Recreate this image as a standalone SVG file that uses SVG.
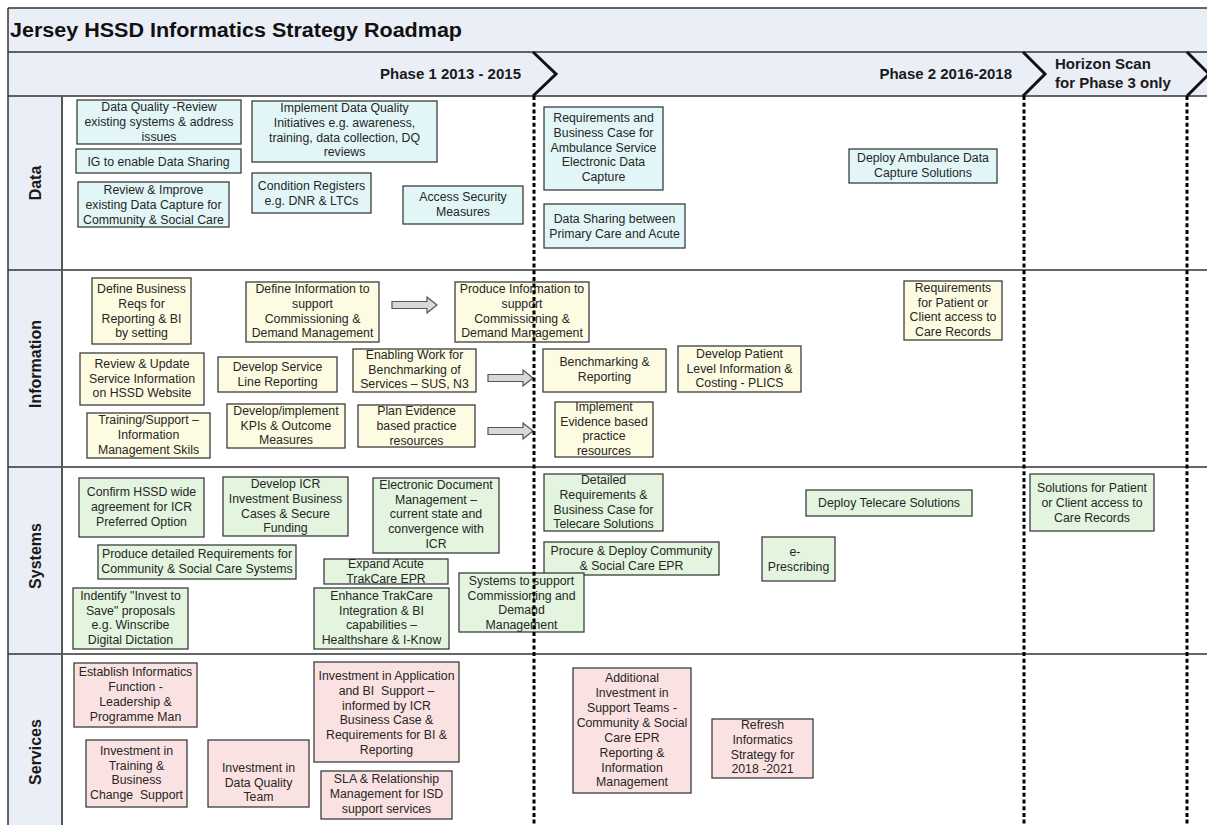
<svg xmlns="http://www.w3.org/2000/svg" width="1207" height="825" viewBox="0 0 1207 825">
<style>
.t{font-family:"Liberation Sans",Arial,sans-serif;font-size:12.3px;fill:#262626;text-anchor:middle}
.d{fill:#e2f6f8;stroke:#3d3d3d;stroke-width:1.3}
.i{fill:#fdfbe2;stroke:#3d3d3d;stroke-width:1.3}
.s{fill:#e3f5df;stroke:#3d3d3d;stroke-width:1.3}
.v{fill:#fbe2e2;stroke:#3d3d3d;stroke-width:1.3}
.hdr{font-family:"Liberation Sans",Arial,sans-serif;font-weight:bold;fill:#1a1a1a;font-size:15px}
.lane{font-family:"Liberation Sans",Arial,sans-serif;font-weight:bold;font-size:16px;fill:#1a1a1a;text-anchor:middle}
.rule{stroke:#333;stroke-width:1.5;fill:none}
.chev{stroke:#111;stroke-width:3;fill:none;stroke-linejoin:miter}
.dot{stroke:#000;stroke-width:3;stroke-dasharray:4 2.7;fill:none}
.arrow{fill:#d8d8d8;stroke:#555;stroke-width:1.2}
</style>
<rect x="0" y="0" width="1207" height="825" fill="#fff"/>
<g id="frame">
<rect x="8" y="8" width="1199" height="88" fill="#eaeef7"/>
<rect x="8" y="96" width="54" height="729" fill="#eaeef7"/>
<line class="rule" x1="8" y1="8" x2="1207" y2="8"/>
<line class="rule" x1="8" y1="52" x2="1207" y2="52"/>
<line class="rule" x1="8" y1="96" x2="1207" y2="96"/>
<line class="rule" x1="8" y1="270" x2="1207" y2="270"/>
<line class="rule" x1="8" y1="467" x2="1207" y2="467"/>
<line class="rule" x1="8" y1="654" x2="1207" y2="654"/>
<line class="rule" x1="8" y1="8" x2="8" y2="825"/>
<line x1="62" y1="96" x2="62" y2="825" stroke="#555" stroke-width="2"/>
<polyline class="chev" points="533,52 556,74 533,96"/>
<polyline class="chev" points="1023,52 1045,74 1023,96"/>
<polyline class="chev" points="1187,52 1209,74 1187,96"/>
<text x="10" y="37" font-family="Liberation Sans, Arial, sans-serif" font-weight="bold" font-size="20" fill="#111" textLength="452" lengthAdjust="spacingAndGlyphs">Jersey HSSD Informatics Strategy Roadmap</text>
<text class="hdr" x="521" y="79" text-anchor="end">Phase 1 2013 - 2015</text>
<text class="hdr" x="1012" y="79" text-anchor="end">Phase 2 2016-2018</text>
<text class="hdr" x="1055" y="69">Horizon Scan</text>
<text class="hdr" x="1055" y="88">for Phase 3 only</text>
<text class="lane" transform="translate(41,183) rotate(-90)">Data</text>
<text class="lane" transform="translate(41,364) rotate(-90)">Information</text>
<text class="lane" transform="translate(41,556) rotate(-90)">Systems</text>
<text class="lane" transform="translate(41,752) rotate(-90)">Services</text>
</g>

<g id="n1"><rect class="d" x="77" y="100" width="164" height="44"/><text class="t"><tspan x="159" y="111.3">Data Quality -Review</tspan><tspan x="159" y="126.3">existing systems &amp; address</tspan><tspan x="159" y="141.3">issues</tspan></text></g>
<g id="n2"><rect class="d" x="76" y="149" width="165" height="24"/><text class="t"><tspan x="158.5" y="165.5">IG to enable Data Sharing</tspan></text></g>
<g id="n3"><rect class="d" x="78" y="182" width="151" height="45"/><text class="t"><tspan x="153.5" y="194.3">Review &amp; Improve</tspan><tspan x="153.5" y="209">existing Data Capture for</tspan><tspan x="153.5" y="223.5">Community &amp; Social Care</tspan></text></g>
<g id="n4"><rect class="d" x="252" y="101" width="185" height="61"/><text class="t"><tspan x="344.5" y="112.3">Implement Data Quality</tspan><tspan x="344.5" y="127">Initiatives e.g. awareness,</tspan><tspan x="344.5" y="141.7">training, data collection, DQ</tspan><tspan x="344.5" y="156.4">reviews</tspan></text></g>
<g id="n5"><rect class="d" x="252" y="173" width="119" height="40"/><text class="t"><tspan x="311.5" y="190.3">Condition Registers</tspan><tspan x="311.5" y="205">e.g. DNR &amp; LTCs</tspan></text></g>
<g id="n6"><rect class="d" x="403" y="186" width="120" height="38"/><text class="t"><tspan x="463" y="201.3">Access Security</tspan><tspan x="463" y="216">Measures</tspan></text></g>
<g id="n7"><rect class="d" x="544" y="107" width="119" height="83"/><text class="t"><tspan x="603.5" y="122.3">Requirements and</tspan><tspan x="603.5" y="137">Business Case for</tspan><tspan x="603.5" y="151.7">Ambulance Service</tspan><tspan x="603.5" y="166.4">Electronic Data</tspan><tspan x="603.5" y="181.1">Capture</tspan></text></g>
<g id="n8"><rect class="d" x="544" y="204" width="141" height="44"/><text class="t"><tspan x="614.5" y="223.3">Data Sharing between</tspan><tspan x="614.5" y="237.7">Primary Care and Acute</tspan></text></g>
<g id="n9"><rect class="d" x="849" y="149" width="148" height="34"/><text class="t"><tspan x="923" y="162.3">Deploy Ambulance Data</tspan><tspan x="923" y="177">Capture Solutions</tspan></text></g>

<g id="n10"><rect class="i" x="92" y="278" width="99" height="66"/><text class="t"><tspan x="141.5" y="293.3">Define Business</tspan><tspan x="141.5" y="308">Reqs for</tspan><tspan x="141.5" y="322.5">Reporting &amp; BI</tspan><tspan x="141.5" y="337">by setting</tspan></text></g>
<g id="n11"><rect class="i" x="246" y="282" width="133" height="60"/><text class="t"><tspan x="312.5" y="293.3">Define Information to</tspan><tspan x="312.5" y="308">support</tspan><tspan x="312.5" y="322.5">Commissioning &amp;</tspan><tspan x="312.5" y="337">Demand Management</tspan></text></g>
<g id="n12"><rect class="i" x="455" y="282" width="134" height="60"/><text class="t"><tspan x="522" y="293.3">Produce Information to</tspan><tspan x="522" y="308">support</tspan><tspan x="522" y="322.5">Commissioning &amp;</tspan><tspan x="522" y="337">Demand Management</tspan></text></g>
<g id="n13"><rect class="i" x="904" y="281" width="98" height="59"/><text class="t"><tspan x="953" y="292.3">Requirements</tspan><tspan x="953" y="306.7">for Patient or</tspan><tspan x="953" y="321.3">Client access to</tspan><tspan x="953" y="336">Care Records</tspan></text></g>
<g id="n14"><rect class="i" x="80" y="353" width="124" height="52"/><text class="t"><tspan x="142" y="368.3">Review &amp; Update</tspan><tspan x="142" y="382.7">Service Information</tspan><tspan x="142" y="397.3">on HSSD Website</tspan></text></g>
<g id="n15"><rect class="i" x="218" y="357" width="119" height="35"/><text class="t"><tspan x="277.5" y="371.3">Develop Service</tspan><tspan x="277.5" y="386">Line Reporting</tspan></text></g>
<g id="n16"><rect class="i" x="353" y="349" width="123" height="43"/><text class="t"><tspan x="414.5" y="359.3">Enabling Work for</tspan><tspan x="414.5" y="373.5">Benchmarking of</tspan><tspan x="414.5" y="388">Services – SUS, N3</tspan></text></g>
<g id="n17"><rect class="i" x="543" y="349" width="123" height="43"/><text class="t"><tspan x="604.5" y="366.3">Benchmarking &amp;</tspan><tspan x="604.5" y="381">Reporting</tspan></text></g>
<g id="n18"><rect class="i" x="678" y="346" width="123" height="46"/><text class="t"><tspan x="739.5" y="358.3">Develop Patient</tspan><tspan x="739.5" y="372.5">Level Information &amp;</tspan><tspan x="739.5" y="387">Costing - PLICS</tspan></text></g>
<g id="n19"><rect class="i" x="87" y="413" width="123" height="45"/><text class="t"><tspan x="148.5" y="424.3">Training/Support –</tspan><tspan x="148.5" y="439">Information</tspan><tspan x="148.5" y="453.5">Management Skils</tspan></text></g>
<g id="n20"><rect class="i" x="227" y="404" width="118" height="44"/><text class="t"><tspan x="286" y="415.3">Develop/implement</tspan><tspan x="286" y="429.5">KPIs &amp; Outcome</tspan><tspan x="286" y="444">Measures</tspan></text></g>
<g id="n21"><rect class="i" x="358" y="405" width="117" height="42"/><text class="t"><tspan x="416.5" y="415.3">Plan Evidence</tspan><tspan x="416.5" y="430">based practice</tspan><tspan x="416.5" y="444.8">resources</tspan></text></g>
<g id="n22"><rect class="i" x="555" y="402" width="98" height="55"/><text class="t"><tspan x="604" y="411.3">Implement</tspan><tspan x="604" y="425.5">Evidence based</tspan><tspan x="604" y="440.3">practice</tspan><tspan x="604" y="455">resources</tspan></text></g>

<g id="n23"><rect class="s" x="79" y="478" width="125" height="59"/><text class="t"><tspan x="141.5" y="496.3">Confirm HSSD wide</tspan><tspan x="141.5" y="511">agreement for ICR</tspan><tspan x="141.5" y="525.5">Preferred Option</tspan></text></g>
<g id="n24"><rect class="s" x="223" y="477" width="125" height="59"/><text class="t"><tspan x="285.5" y="488.3">Develop ICR</tspan><tspan x="285.5" y="503">Investment Business</tspan><tspan x="285.5" y="517.5">Cases &amp; Secure</tspan><tspan x="285.5" y="532">Funding</tspan></text></g>
<g id="n25"><rect class="s" x="373" y="478" width="126" height="75"/><text class="t"><tspan x="436" y="489.3">Electronic Document</tspan><tspan x="436" y="503.5">Management –</tspan><tspan x="436" y="518.3">current state and</tspan><tspan x="436" y="533">convergence with</tspan><tspan x="436" y="547.5">ICR</tspan></text></g>
<g id="n26"><rect class="s" x="544" y="474" width="119" height="57"/><text class="t"><tspan x="603.5" y="484.3">Detailed</tspan><tspan x="603.5" y="499">Requirements &amp;</tspan><tspan x="603.5" y="513.5">Business Case for</tspan><tspan x="603.5" y="528">Telecare Solutions</tspan></text></g>
<g id="n27"><rect class="s" x="806" y="490" width="166" height="26"/><text class="t"><tspan x="889" y="507.3">Deploy Telecare Solutions</tspan></text></g>
<g id="n28"><rect class="s" x="1030" y="474" width="124" height="57"/><text class="t"><tspan x="1092" y="492.3">Solutions for Patient</tspan><tspan x="1092" y="507">or Client access to</tspan><tspan x="1092" y="521.5">Care Records</tspan></text></g>
<g id="n29"><rect class="s" x="98" y="545" width="198" height="34"/><text class="t"><tspan x="197" y="558.3">Produce detailed Requirements for</tspan><tspan x="197" y="572.5">Community &amp; Social Care Systems</tspan></text></g>
<g id="n30"><rect class="s" x="544" y="542" width="175" height="33"/><text class="t"><tspan x="631.5" y="555.3">Procure &amp; Deploy Community</tspan><tspan x="631.5" y="569.5">&amp; Social Care EPR</tspan></text></g>
<g id="n31"><rect class="s" x="762" y="537" width="73" height="44"/><text class="t"><tspan x="795" y="556.3">e-</tspan><tspan x="798.5" y="570.5">Prescribing</tspan></text></g>
<g id="n32"><rect class="s" x="324" y="559" width="124" height="25"/><text class="t"><tspan x="386" y="568.3">Expand Acute</tspan><tspan x="386" y="582.5">TrakCare EPR</tspan></text></g>
<g id="n33"><rect class="s" x="73" y="588" width="115" height="61"/><text class="t"><tspan x="130.5" y="600.3">Indentify "Invest to</tspan><tspan x="130.5" y="614.8">Save" proposals</tspan><tspan x="130.5" y="629.3">e.g. Winscribe</tspan><tspan x="130.5" y="643.8">Digital Dictation</tspan></text></g>
<g id="n34"><rect class="s" x="314" y="588" width="135" height="61"/><text class="t"><tspan x="381.5" y="600.3">Enhance TrakCare</tspan><tspan x="381.5" y="614.8">Integration &amp; BI</tspan><tspan x="381.5" y="629.3">capabilities –</tspan><tspan x="381.5" y="643.8">Healthshare &amp; I-Know</tspan></text></g>
<g id="n35"><rect class="s" x="459" y="573" width="125" height="59"/><text class="t"><tspan x="521.5" y="585.3">Systems to support</tspan><tspan x="521.5" y="599.5">Commissioning and</tspan><tspan x="521.5" y="614.3">Demand</tspan><tspan x="521.5" y="628.5">Management</tspan></text></g>

<g id="n36"><rect class="v" x="74" y="663" width="123" height="64"/><text class="t"><tspan x="135.5" y="676.3">Establish Informatics</tspan><tspan x="135.5" y="691">Function -</tspan><tspan x="135.5" y="706">Leadership &amp;</tspan><tspan x="135.5" y="720.5">Programme Man</tspan></text></g>
<g id="n37"><rect class="v" x="86" y="740" width="101" height="67"/><text class="t"><tspan x="136.5" y="755.3">Investment in</tspan><tspan x="136.5" y="769.5">Training &amp;</tspan><tspan x="136.5" y="784.3">Business</tspan><tspan x="136.5" y="799">Change&#160; Support</tspan></text></g>
<g id="n38"><rect class="v" x="208" y="740" width="101" height="67"/><text class="t"><tspan x="258.5" y="772.3">Investment in</tspan><tspan x="258.5" y="786.5">Data Quality</tspan><tspan x="258.5" y="800.5">Team</tspan></text></g>
<g id="n39"><rect class="v" x="314" y="662" width="145" height="100"/><text class="t"><tspan x="386.5" y="680.3">Investment in Application</tspan><tspan x="386.5" y="695">and BI&#160; Support –</tspan><tspan x="386.5" y="709.5">informed by ICR</tspan><tspan x="386.5" y="724.3">Business Case &amp;</tspan><tspan x="386.5" y="739">Requirements for BI &amp;</tspan><tspan x="386.5" y="753.5">Reporting</tspan></text></g>
<g id="n40"><rect class="v" x="321" y="771" width="131" height="48"/><text class="t"><tspan x="386.5" y="783.3">SLA &amp; Relationship</tspan><tspan x="386.5" y="798">Management for ISD</tspan><tspan x="386.5" y="812.5">support services</tspan></text></g>
<g id="n41"><rect class="v" x="573" y="668" width="118" height="125"/><text class="t"><tspan x="632" y="682.3">Additional</tspan><tspan x="632" y="697">Investment in</tspan><tspan x="632" y="712">Support Teams -</tspan><tspan x="632" y="727">Community &amp; Social</tspan><tspan x="632" y="741.5">Care EPR</tspan><tspan x="632" y="756.5">Reporting &amp;</tspan><tspan x="632" y="771.5">Information</tspan><tspan x="632" y="786">Management</tspan></text></g>
<g id="n42"><rect class="v" x="712" y="719" width="101" height="59"/><text class="t"><tspan x="762.5" y="729.3">Refresh</tspan><tspan x="762.5" y="744">Informatics</tspan><tspan x="762.5" y="759">Strategy for</tspan><tspan x="762.5" y="773">2018 -2021</tspan></text></g>

<g id="connectors">
<polygon class="arrow" points="392,301.5 427,301.5 427,297 437,305 427,313 427,308.5 392,308.5"/>
<polygon class="arrow" points="488,374.5 523,374.5 523,370 533,378 523,386 523,381.5 488,381.5"/>
<polygon class="arrow" points="488,427.5 523,427.5 523,423 533,431 523,439 523,434.5 488,434.5"/>
</g>

<g id="phase-dividers">
<line class="dot" x1="534" y1="96" x2="534" y2="825"/>
<line class="dot" x1="1024" y1="96" x2="1024" y2="825"/>
<line class="dot" x1="1187" y1="96" x2="1187" y2="825"/>
</g>
</svg>
